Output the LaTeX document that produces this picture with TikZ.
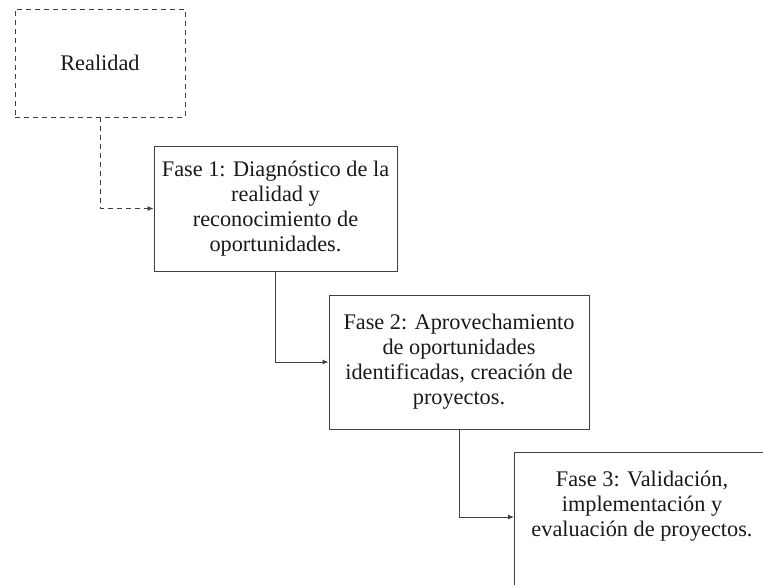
\documentclass[tikz,border=0pt]{standalone}
\usepackage{fontspec}
\setmainfont{Liberation Serif}
\usetikzlibrary{arrows.meta}
\begin{document}
\begin{tikzpicture}[x=1pt,y=-1pt,
  every node/.style={font=\fontsize{22.3}{25}\selectfont, text=black!90},
  box/.style={draw=black!75, line width=0.9pt, inner sep=0pt, align=center},
  dbox/.style={box, dash pattern=on 5pt off 4pt},
  arr/.style={draw=black!75, line width=0.9pt, -{Latex[length=6pt,width=5pt]}},
  darr/.style={arr, dash pattern=on 5pt off 4pt}]
\useasboundingbox (0,0) rectangle (763,584);
\clip (0,0) rectangle (763,584);
\node[dbox, minimum width=170pt, minimum height=108pt] (real) at (100,63) {Realidad};
\node[box, minimum width=243pt, minimum height=125pt] (f1) at (275.5,208.5)
  {Fase 1: Diagnóstico de la\\realidad y\\reconocimiento de\\oportunidades.};
\node[box, minimum width=260pt, minimum height=134pt] (f2) at (459,362)
  {Fase 2: Aprovechamiento\\de oportunidades\\identificadas, creación de\\proyectos.};
\node[box, minimum width=270pt, minimum height=150pt, anchor=north west] (f3box) at (514,452) {};
\node[align=center] (f3) at (642,506)
  {Fase 3: Validación,\\implementación y\\evaluación de proyectos.};
\coordinate (in3) at (514,517);
\draw[darr] (real.south) |- (f1.west);
\draw[arr] (f1.south) |- (f2.west);
\draw[arr] (f2.south) |- (in3);
\end{tikzpicture}
\end{document}
